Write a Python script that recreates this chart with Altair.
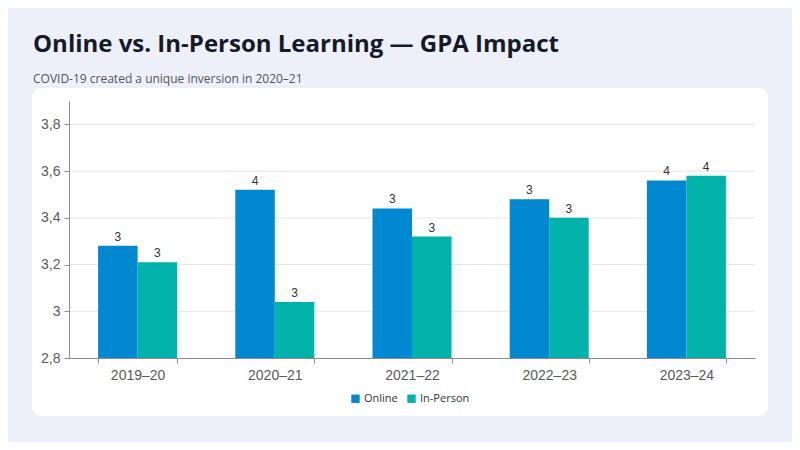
import altair as alt
import pandas as pd

# values
years = ["2019–20", "2020–21", "2021–22", "2022–23", "2023–24"]
online = [3.28, 3.52, 3.44, 3.48, 3.56]
in_person = [3.21, 3.04, 3.32, 3.40, 3.58]
modes = ["Online", "In-Person"]
mode_colors = ["#0288d1", "#00b2a9"]
y_ticks = [2.8, 3.0, 3.2, 3.4, 3.6, 3.8]
grid_vals = [3.0, 3.2, 3.4, 3.6, 3.8]

rows = []
for i, yr in enumerate(years):
    rows.append({"Year": yr, "Mode": "Online", "GPA": online[i]})
    rows.append({"Year": yr, "Mode": "In-Person", "GPA": in_person[i]})
df = pd.DataFrame(rows)

W, H = 686, 257
y_scale = alt.Scale(domain=[2.8, 3.9], zero=False, nice=False)
y_axis = alt.Axis(values=y_ticks, grid=False, zindex=1,
                  labelExpr="replace(format(datum.value, '.1~f'), '.', ',')",
                  labelFont="Liberation Sans", labelFontSize=14,
                  labelColor="#595959", domainColor="#8c8c8c",
                  tickColor="#8c8c8c", tickSize=5, labelPadding=4)

# white card behind the plot
card = alt.Chart(pd.DataFrame({"a": [0]})).mark_rect(
    fill="white", cornerRadius=10
).encode(
    x=alt.value(-37), x2=alt.value(699), y=alt.value(-13), y2=alt.value(315)
)

grid = alt.Chart(pd.DataFrame({"GPA": grid_vals})).mark_rule(
    color="#e6e6e6", strokeWidth=1
).encode(
    y=alt.Y("GPA:Q", scale=y_scale, title=None, axis=y_axis),
    x=alt.value(0), x2=alt.value(W),
)

base = alt.Chart(df).encode(
    x=alt.X("Year:N", sort=years, title=None,
            scale=alt.Scale(paddingInner=0.424, paddingOuter=0.212),
            axis=alt.Axis(labelAngle=0, tickBand="extent", zindex=1,
                          labelFont="Liberation Sans",
                          labelFontSize=14, labelColor="#595959", domainColor="#8c8c8c",
                          tickColor="#8c8c8c", tickSize=5, labelPadding=5)),
    xOffset=alt.XOffset("Mode:N", sort=modes),
    y=alt.Y("GPA:Q", scale=y_scale, title=None, axis=y_axis),
)

bars = base.mark_bar(clip=True).encode(
    color=alt.Color("Mode:N", sort=modes,
                    scale=alt.Scale(domain=modes, range=mode_colors),
                    legend=alt.Legend(title=None, orient="none", direction="horizontal",
                                      legendX=281, legendY=292, symbolType="square",
                                      symbolSize=70, symbolStrokeWidth=0,
                                      labelFont="Open Sans", labelFontSize=11,
                                      labelColor="#333333", columnPadding=8,
                                      labelOffset=3)),
)

labels = base.mark_text(dy=-9, font="Liberation Sans", fontSize=12, color="#333333").encode(
    text=alt.Text("GPA:Q", format=".0f"),
)

chart = alt.layer(card, grid, bars, labels).properties(
    width=W, height=H,
    autosize=alt.AutoSizeParams(type="none"),
    padding={"left": 61, "top": 93, "right": 37, "bottom": 84},
    background="#eef0f9",
    title=alt.Title(
        "Online vs. In-Person Learning — GPA Impact",
        subtitle="COVID-19 created a unique inversion in 2020–21",
        anchor="start", dx=1, offset=3,
        font="Open Sans", fontSize=24, fontWeight="bold", color="#151a28",
        subtitleFont="Open Sans", subtitleFontSize=12, subtitleColor="#555555",
        subtitlePadding=17,
    ),
).configure_view(stroke=None)

chart.save("out.html", embed_options={"renderer": "svg", "actions": False})
